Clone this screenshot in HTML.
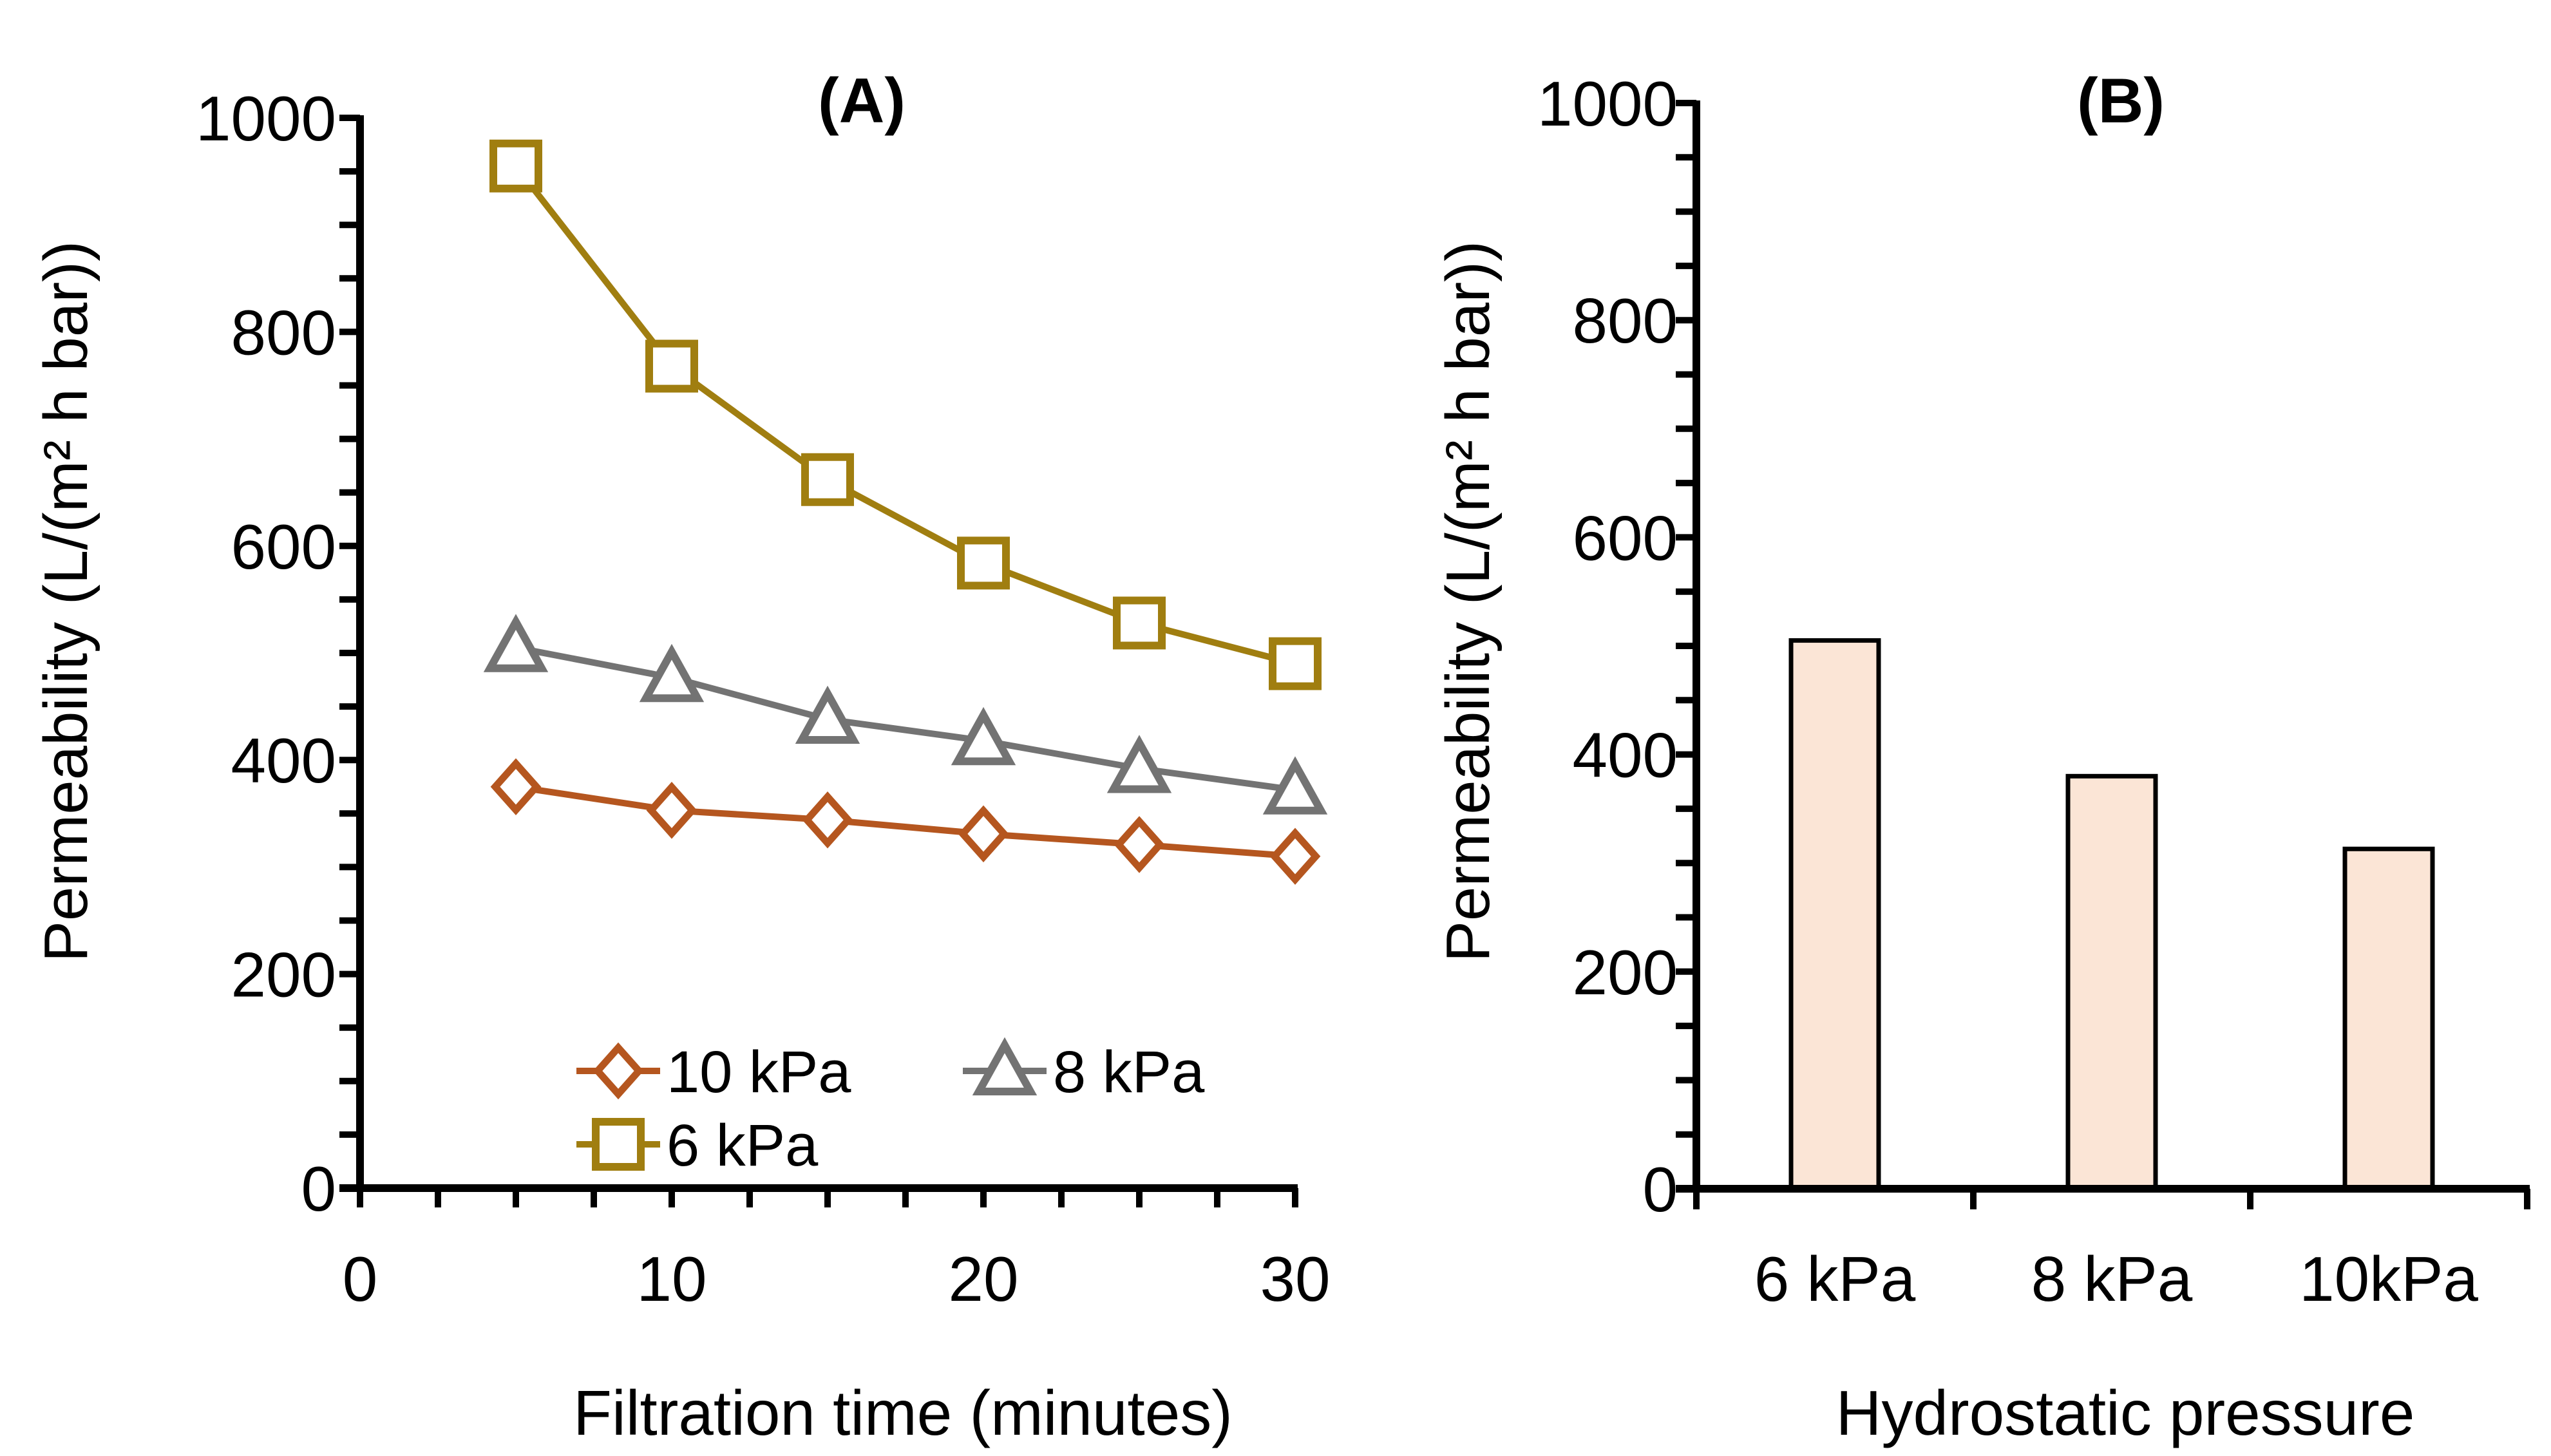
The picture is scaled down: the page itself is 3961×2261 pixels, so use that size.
<!DOCTYPE html>
<html><head><meta charset="utf-8"><style>
html,body{margin:0;padding:0;background:#fff}
svg{display:block}
text{font-family:"Liberation Sans",sans-serif;fill:#000}
</style></head><body>
<svg id="chart" width="3961" height="2261" viewBox="0 0 3961 2261" xmlns="http://www.w3.org/2000/svg">
<g id="pa"></g>
<g id="pb"></g>
</svg>
<script>
const timeCats = [5,10,15,20,25,30];
const series6 = [955,768,662,584,528,490];
const series8 = [505,477,438,418,392,372];
const series10 = [375,353,344,331,321,310];
const xTicksA = [0,10,20,30];
const yTicks = [0,200,400,600,800,1000];
const barCats = ["6 kPa","8 kPa","10kPa"];
const barVals = [505,380,313];

const NS="http://www.w3.org/2000/svg";
function mk(parent,tag,attrs,txt){const e=document.createElementNS(NS,tag);for(const k in attrs)e.setAttribute(k,attrs[k]);if(txt!==undefined)e.textContent=txt;parent.appendChild(e);return e;}

const FS=98;
// Panel A
const pa=document.getElementById('pa');
const ax0=559, ax1=2011, ay0=1845, ay1=183;
const xA=v=>ax0+(v-0)/30*(ax1-ax0);
const yA=v=>ay0-(v/1000)*(ay0-ay1);
for(let v=0;v<=1000;v+=50){const t=mk(pa,'line',{x1:ax0-32,x2:ax0,y1:yA(v),y2:yA(v),stroke:'#000','stroke-width':10});
}
for(let v=0;v<=30;v+=2.5){const t=mk(pa,'line',{x1:xA(v),x2:xA(v),y1:ay0,y2:ay0+30,stroke:'#000','stroke-width':10});
}
let e=mk(pa,'line',{x1:ax0,x2:ax0,y1:ay1-4,y2:ay0+5,stroke:'#000','stroke-width':12});

e=mk(pa,'line',{x1:ax0-32,x2:ax1+4,y1:ay0,y2:ay0,stroke:'#000','stroke-width':12});

yTicks.forEach(v=>{const t=mk(pa,'text',{x:522,y:yA(v)+35,'text-anchor':'end','font-size':FS},String(v));
});
xTicksA.forEach(v=>{const t=mk(pa,'text',{x:xA(v),y:2020,'text-anchor':'middle','font-size':FS},String(v));
});
e=mk(pa,'text',{x:1402,y:2228,'text-anchor':'middle','font-size':FS},'Filtration time (minutes)');

e=mk(pa,'text',{x:0,y:0,transform:'translate(135,934) rotate(-90)','text-anchor':'middle','font-size':96},'Permeability (L/(m² h bar))');

e=mk(pa,'text',{x:1338,y:190,'text-anchor':'middle','font-size':FS,'font-weight':'bold'},'(A)');


function marker(g,type,cx,cy,col){
  if(type==='sq') return mk(g,'rect',{x:cx-35,y:cy-35,width:70,height:70,fill:'#fff',stroke:col,'stroke-width':12});
  if(type==='tri') return mk(g,'polygon',{points:`${cx},${cy-40} ${cx+40},${cy+32} ${cx-40},${cy+32}`,fill:'#fff',stroke:col,'stroke-width':12,'stroke-linejoin':'miter'});
  return mk(g,'polygon',{points:`${cx},${cy-36} ${cx+32},${cy} ${cx},${cy+36} ${cx-32},${cy}`,fill:'#fff',stroke:col,'stroke-width':11});
}
const seriesDefs=[[series10,'#B5561F','dia','10kpa'],[series8,'#737373','tri','8kpa'],[series6,'#A07E10','sq','6kpa']];
seriesDefs.forEach(([vals,col,type,nm])=>{
  const g=mk(pa,'g',{});
  
  const l=mk(g,'polyline',{points:vals.map((v,i)=>xA(timeCats[i])+','+yA(v)).join(' '),fill:'none',stroke:col,'stroke-width':10});
  
  vals.forEach((v,i)=>{const m=marker(g,type,xA(timeCats[i]),yA(v),col);
    });
});
// legend
const leg=[[895,1663,'#B5561F','dia','10 kPa','10kpa'],[1495,1663,'#737373','tri','8 kPa','8kpa'],[895,1777,'#A07E10','sq','6 kPa','6kpa']];
leg.forEach(([x,y,col,type,label,nm])=>{
  const g=mk(pa,'g',{});
  
  mk(g,'line',{x1:x,x2:x+130,y1:y,y2:y,stroke:col,'stroke-width':10});
  marker(g,type,x+65,y,col);
  mk(g,'text',{x:x+140,y:y+33,'font-size':92},label);
});

// Panel B
const pb=document.getElementById('pb');
const bx0=2634, bx1=3924, by0=1846, by1=160;
const yB=v=>by0-(v/1000)*(by0-by1);
const band=(bx1-bx0)/barCats.length;
for(let v=0;v<=1000;v+=50){const t=mk(pb,'line',{x1:bx0-32,x2:bx0,y1:yB(v),y2:yB(v),stroke:'#000','stroke-width':10});
}
for(let i=0;i<=barCats.length;i++){const t=mk(pb,'line',{x1:bx0+i*band,x2:bx0+i*band,y1:by0,y2:by0+32,stroke:'#000','stroke-width':10});
}
barVals.forEach((v,i)=>{
  const cx=bx0+band*(i+0.5);
  const r=mk(pb,'rect',{x:cx-68,y:yB(v),width:136,height:by0-yB(v),fill:'#FBE5D6',stroke:'#000','stroke-width':7});
  
  const t=mk(pb,'text',{x:cx,y:2020,'text-anchor':'middle','font-size':FS},barCats[i]);
  
});
e=mk(pb,'line',{x1:bx0,x2:bx0,y1:by1-4,y2:by0+5,stroke:'#000','stroke-width':12});

e=mk(pb,'line',{x1:bx0-32,x2:bx1+4,y1:by0,y2:by0,stroke:'#000','stroke-width':12});

yTicks.forEach(v=>{const t=mk(pb,'text',{x:2605,y:yB(v)+35,'text-anchor':'end','font-size':FS},String(v));
});
e=mk(pb,'text',{x:3300,y:2228,'text-anchor':'middle','font-size':FS},'Hydrostatic pressure');

e=mk(pb,'text',{x:0,y:0,transform:'translate(2312,934) rotate(-90)','text-anchor':'middle','font-size':96},'Permeability (L/(m² h bar))');

e=mk(pb,'text',{x:3293,y:190,'text-anchor':'middle','font-size':FS,'font-weight':'bold'},'(B)');

</script>
</body></html>
